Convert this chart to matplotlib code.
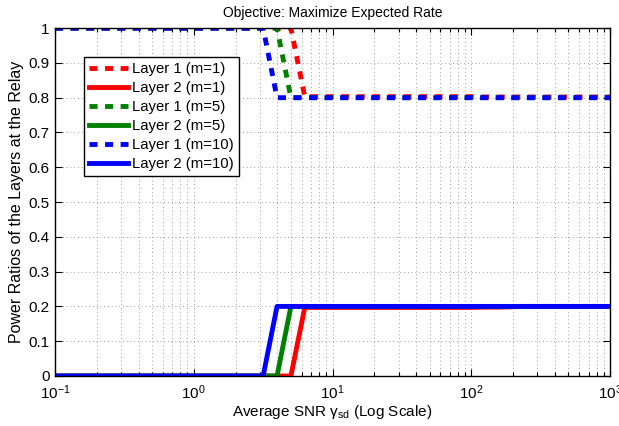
"""
Power ratios of the layers at the relay vs average SNR
"""

import matplotlib
matplotlib.use("Agg")
import matplotlib.pyplot as plt
from matplotlib.ticker import LogLocator, NullFormatter

# ==========================================
# Data (SNR grid in dB, 1 dB steps)
# ==========================================

snr_db = [-10, -9, -8, -7, -6, -5, -4, -3, -2, -1,
          0, 1, 2, 3, 4, 5, 6, 7, 8, 9,
          10, 11, 12, 13, 14, 15, 16, 17, 18, 19,
          20, 21, 22, 23, 24, 25, 26, 27, 28, 29, 30]

snr = [10 ** (d / 10) for d in snr_db]

# m = 1
layer1_m1 = [1, 1, 1, 1, 1, 1, 1, 1, 1, 1,
             1, 1, 1, 1, 1, 1, 1, 1, 0.803, 0.803,
             0.803, 0.803, 0.803, 0.803, 0.803, 0.803, 0.803, 0.803, 0.803, 0.803,
             0.803, 0.802, 0.802, 0.802, 0.802, 0.802, 0.802, 0.802, 0.802, 0.802, 0.802]
layer2_m1 = [0, 0, 0, 0, 0, 0, 0, 0, 0, 0,
             0, 0, 0, 0, 0, 0, 0, 0, 0.197, 0.197,
             0.197, 0.197, 0.197, 0.197, 0.197, 0.197, 0.197, 0.197, 0.197, 0.197,
             0.197, 0.198, 0.198, 0.199, 0.2, 0.2, 0.2, 0.2, 0.2, 0.2, 0.2]

# m = 5
layer1_m5 = [1, 1, 1, 1, 1, 1, 1, 1, 1, 1,
             1, 1, 1, 1, 1, 1, 1, 0.8, 0.8, 0.8,
             0.8, 0.8, 0.8, 0.8, 0.8, 0.8, 0.8, 0.8, 0.8, 0.8,
             0.8, 0.8, 0.8, 0.8, 0.8, 0.8, 0.8, 0.8, 0.8, 0.8, 0.8]
layer2_m5 = [0, 0, 0, 0, 0, 0, 0, 0, 0, 0,
             0, 0, 0, 0, 0, 0, 0, 0.2, 0.2, 0.2,
             0.2, 0.2, 0.2, 0.2, 0.2, 0.2, 0.2, 0.2, 0.2, 0.2,
             0.2, 0.2, 0.2, 0.2, 0.2, 0.2, 0.2, 0.2, 0.2, 0.2, 0.2]

# m = 10
layer1_m10 = [1, 1, 1, 1, 1, 1, 1, 1, 1, 1,
              1, 1, 1, 1, 1, 1, 0.8, 0.8, 0.8, 0.8,
              0.8, 0.8, 0.8, 0.8, 0.8, 0.8, 0.8, 0.8, 0.8, 0.8,
              0.8, 0.8, 0.8, 0.8, 0.8, 0.8, 0.8, 0.8, 0.8, 0.8, 0.8]
layer2_m10 = [0, 0, 0, 0, 0, 0, 0, 0, 0, 0,
              0, 0, 0, 0, 0, 0, 0.2, 0.2, 0.2, 0.2,
              0.2, 0.2, 0.2, 0.2, 0.2, 0.2, 0.2, 0.2, 0.2, 0.2,
              0.2, 0.2, 0.2, 0.2, 0.2, 0.2, 0.2, 0.2, 0.2, 0.2, 0.2]

y_ticks = [0, 0.1, 0.2, 0.3, 0.4, 0.5, 0.6, 0.7, 0.8, 0.9, 1]
y_tick_labels = ["0", "0.1", "0.2", "0.3", "0.4", "0.5",
                 "0.6", "0.7", "0.8", "0.9", "1"]

series = [
    (layer1_m1, "#ff0000", "dash", "Layer 1 (m=1)"),
    (layer2_m1, "#ff0000", "solid", "Layer 2 (m=1)"),
    (layer1_m5, "#008000", "dash", "Layer 1 (m=5)"),
    (layer2_m5, "#008000", "solid", "Layer 2 (m=5)"),
    (layer1_m10, "#0000ff", "dash", "Layer 1 (m=10)"),
    (layer2_m10, "#0000ff", "solid", "Layer 2 (m=10)"),
]

# ==========================================
# Plot
# ==========================================

plt.rcParams["font.family"] = ["Liberation Sans", "DejaVu Sans"]
plt.rcParams["mathtext.fontset"] = "custom"
plt.rcParams["mathtext.rm"] = "Liberation Sans"
plt.rcParams["mathtext.it"] = "Liberation Sans"
plt.rcParams["mathtext.default"] = "regular"

fig = plt.figure(figsize=(6.19, 4.26), dpi=100)
ax = fig.add_axes([0.0889, 0.1174, 0.8966, 0.8166])

for values, color, style, label in series:
    if style == "dash":
        ax.plot(snr, values, color=color, lw=3.5, label=label,
                linestyle=(0, (1.65, 1.55)), dash_capstyle="butt")
    else:
        ax.plot(snr, values, color=color, lw=3.5, label=label)

ax.set_xscale("log")
ax.set_xlim(0.1, 1000)
ax.set_ylim(0, 1)

ax.set_yticks(y_ticks)
ax.set_yticklabels(y_tick_labels)
ax.xaxis.set_major_locator(LogLocator(base=10, numticks=10))
ax.xaxis.set_minor_locator(LogLocator(base=10, subs=range(2, 10), numticks=10))
ax.xaxis.set_minor_formatter(NullFormatter())

ax.tick_params(which="both", direction="in", top=True, right=True,
               labelsize=11, width=0.8)
ax.tick_params(which="major", length=5)
ax.tick_params(which="minor", length=3)
ax.tick_params(axis="x", which="major", pad=5)
ax.tick_params(axis="y", which="major", pad=4)

grid_kw = dict(color="0.5", linestyle=(0, (1, 3.5)), linewidth=0.6)
ax.grid(True, which="major", axis="both", **grid_kw)
ax.grid(True, which="minor", axis="x", **grid_kw)

for spine in ax.spines.values():
    spine.set_linewidth(1.0)

ax.set_title("Objective: Maximize Expected Rate", fontsize=10, pad=8)
ax.set_xlabel(r"Average SNR $\gamma_{sd}$ (Log Scale)", fontsize=11, labelpad=1)
ax.set_ylabel("Power Ratios of the Layers at the Relay", fontsize=11.5, labelpad=3)

leg = ax.legend(loc="upper left", bbox_to_anchor=(0.052, 0.917),
                fontsize=10.7, frameon=True, fancybox=False,
                handlelength=2.6, handletextpad=0.3, labelspacing=0.33,
                borderpad=0.35, borderaxespad=0)
leg.get_frame().set_edgecolor("black")
leg.get_frame().set_linewidth(1.0)
leg.get_frame().set_alpha(1)

fig.savefig("out.png", dpi=100)
